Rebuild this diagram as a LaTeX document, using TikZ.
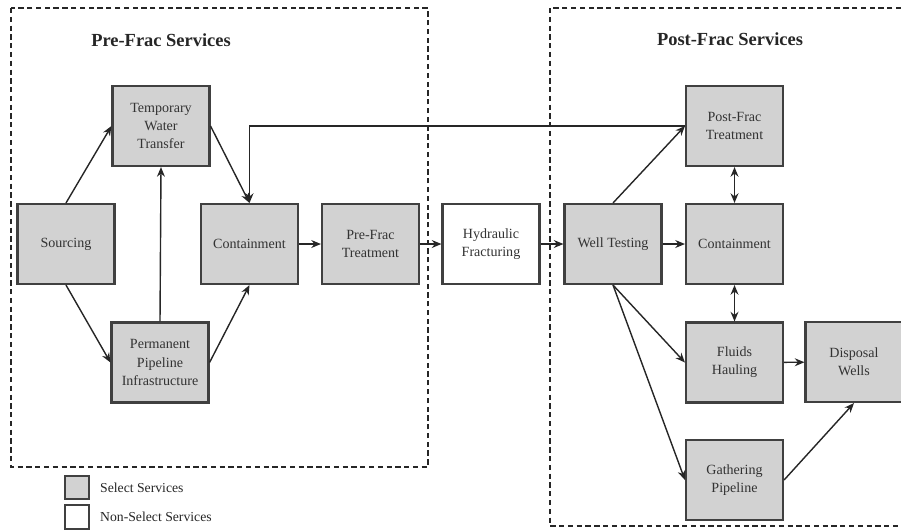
\documentclass[tikz,border=0pt]{standalone}
\usepackage{fontspec}
\setmainfont{Liberation Serif}
\usepackage{tikz}
\usetikzlibrary{calc,backgrounds,arrows.meta}

\begin{document}
\begin{tikzpicture}[>={Stealth[length=5.5pt,width=4.5pt]},x=0.02cm,y=-0.02cm,
    service/.style={draw=black!75,line width=1.2pt,fill=gray!35,text=black!80,align=center,
      minimum width=1.94cm,minimum height=1.6cm,inner sep=1pt,font=\fontsize{8}{10.3}\selectfont},
    nonservice/.style={service,fill=white},
    group/.style={draw=black!85,line width=1.1pt,dash pattern=on 3pt off 2pt},
    flow/.style={->,line width=0.8pt,black!85}]

\useasboundingbox (0,0) rectangle (901,529);

%the two groups
    \draw[group] (11,8) rectangle (428,467);
    \draw[group] (550,8) rectangle (906,526);
    \node[font=\fontsize{10.5}{12}\selectfont\bfseries,text=black!85] (pretitle) at (161,40) {Pre-Frac Services};
    \node[font=\fontsize{10.5}{12}\selectfont\bfseries,text=black!85] (posttitle) at (730,39) {Post-Frac Services};

%pre-frac services
    \node[service] (src) at (66,244) {Sourcing};
    \node[service] (tmp) at (161,126) {Temporary\\Water\\Transfer};
    \node[service] (perm) at (160,362.5) {Permanent\\Pipeline\\Infrastructure};
    \node[service] (cont1) at (249.5,244) {Containment};
    \node[service] (pretr) at (370.5,244) {Pre-Frac\\Treatment};
%the frac itself
    \node[nonservice] (hyd) at (491,244) {Hydraulic\\Fracturing};
%post-frac services
    \node[service] (well) at (613,244) {Well Testing};
    \node[service] (posttr) at (734.5,126) {Post-Frac\\Treatment};
    \node[service] (cont2) at (734.5,244) {Containment};
    \node[service] (fluid) at (734.5,362.5) {Fluids\\Hauling};
    \node[service] (disp) at (854,362) {Disposal\\Wells};
    \node[service] (gath) at (734.5,480) {Gathering\\Pipeline};

%the flows
    \draw[flow] (src.north) -- (tmp.west);
    \draw[flow] (src.south) -- (perm.west);
    \draw[flow] (perm.north) -- (tmp.south);
    \draw[flow] (tmp.east) -- (cont1.north);
    \draw[flow] (perm.east) -- (cont1.south);
    \draw[flow] (cont1) -- (pretr);
    \draw[flow] (pretr) -- (hyd);
    \draw[flow] (hyd) -- (well);
    \draw[flow] (well) -- (cont2);
    \draw[flow] (well.north) -- (posttr.west);
    \draw[flow] (posttr.west) -| (cont1.north);
    \draw[flow,<->] (posttr) -- (cont2);
    \draw[flow,<->] (cont2) -- (fluid);
    \draw[flow] (well.south) -- (fluid.west);
    \draw[flow] (well.south) -- (gath.west);
    \draw[flow] (fluid) -- (disp);
    \draw[flow] (gath.east) -- (disp.south);

%the legend
    \draw[draw=black!75,line width=1.2pt,fill=gray!35] (65,476) rectangle (89,499);
    \draw[draw=black!75,line width=1.2pt,fill=white] (65,505) rectangle (89,529);
    \node[anchor=west,font=\fontsize{7.8}{9}\selectfont,text=black!85] (sel) at (94,488) {Select Services};
    \node[anchor=west,font=\fontsize{7.8}{9}\selectfont,text=black!85] (nonsel) at (94,517) {Non-Select Services};
\end{tikzpicture}
\end{document}
